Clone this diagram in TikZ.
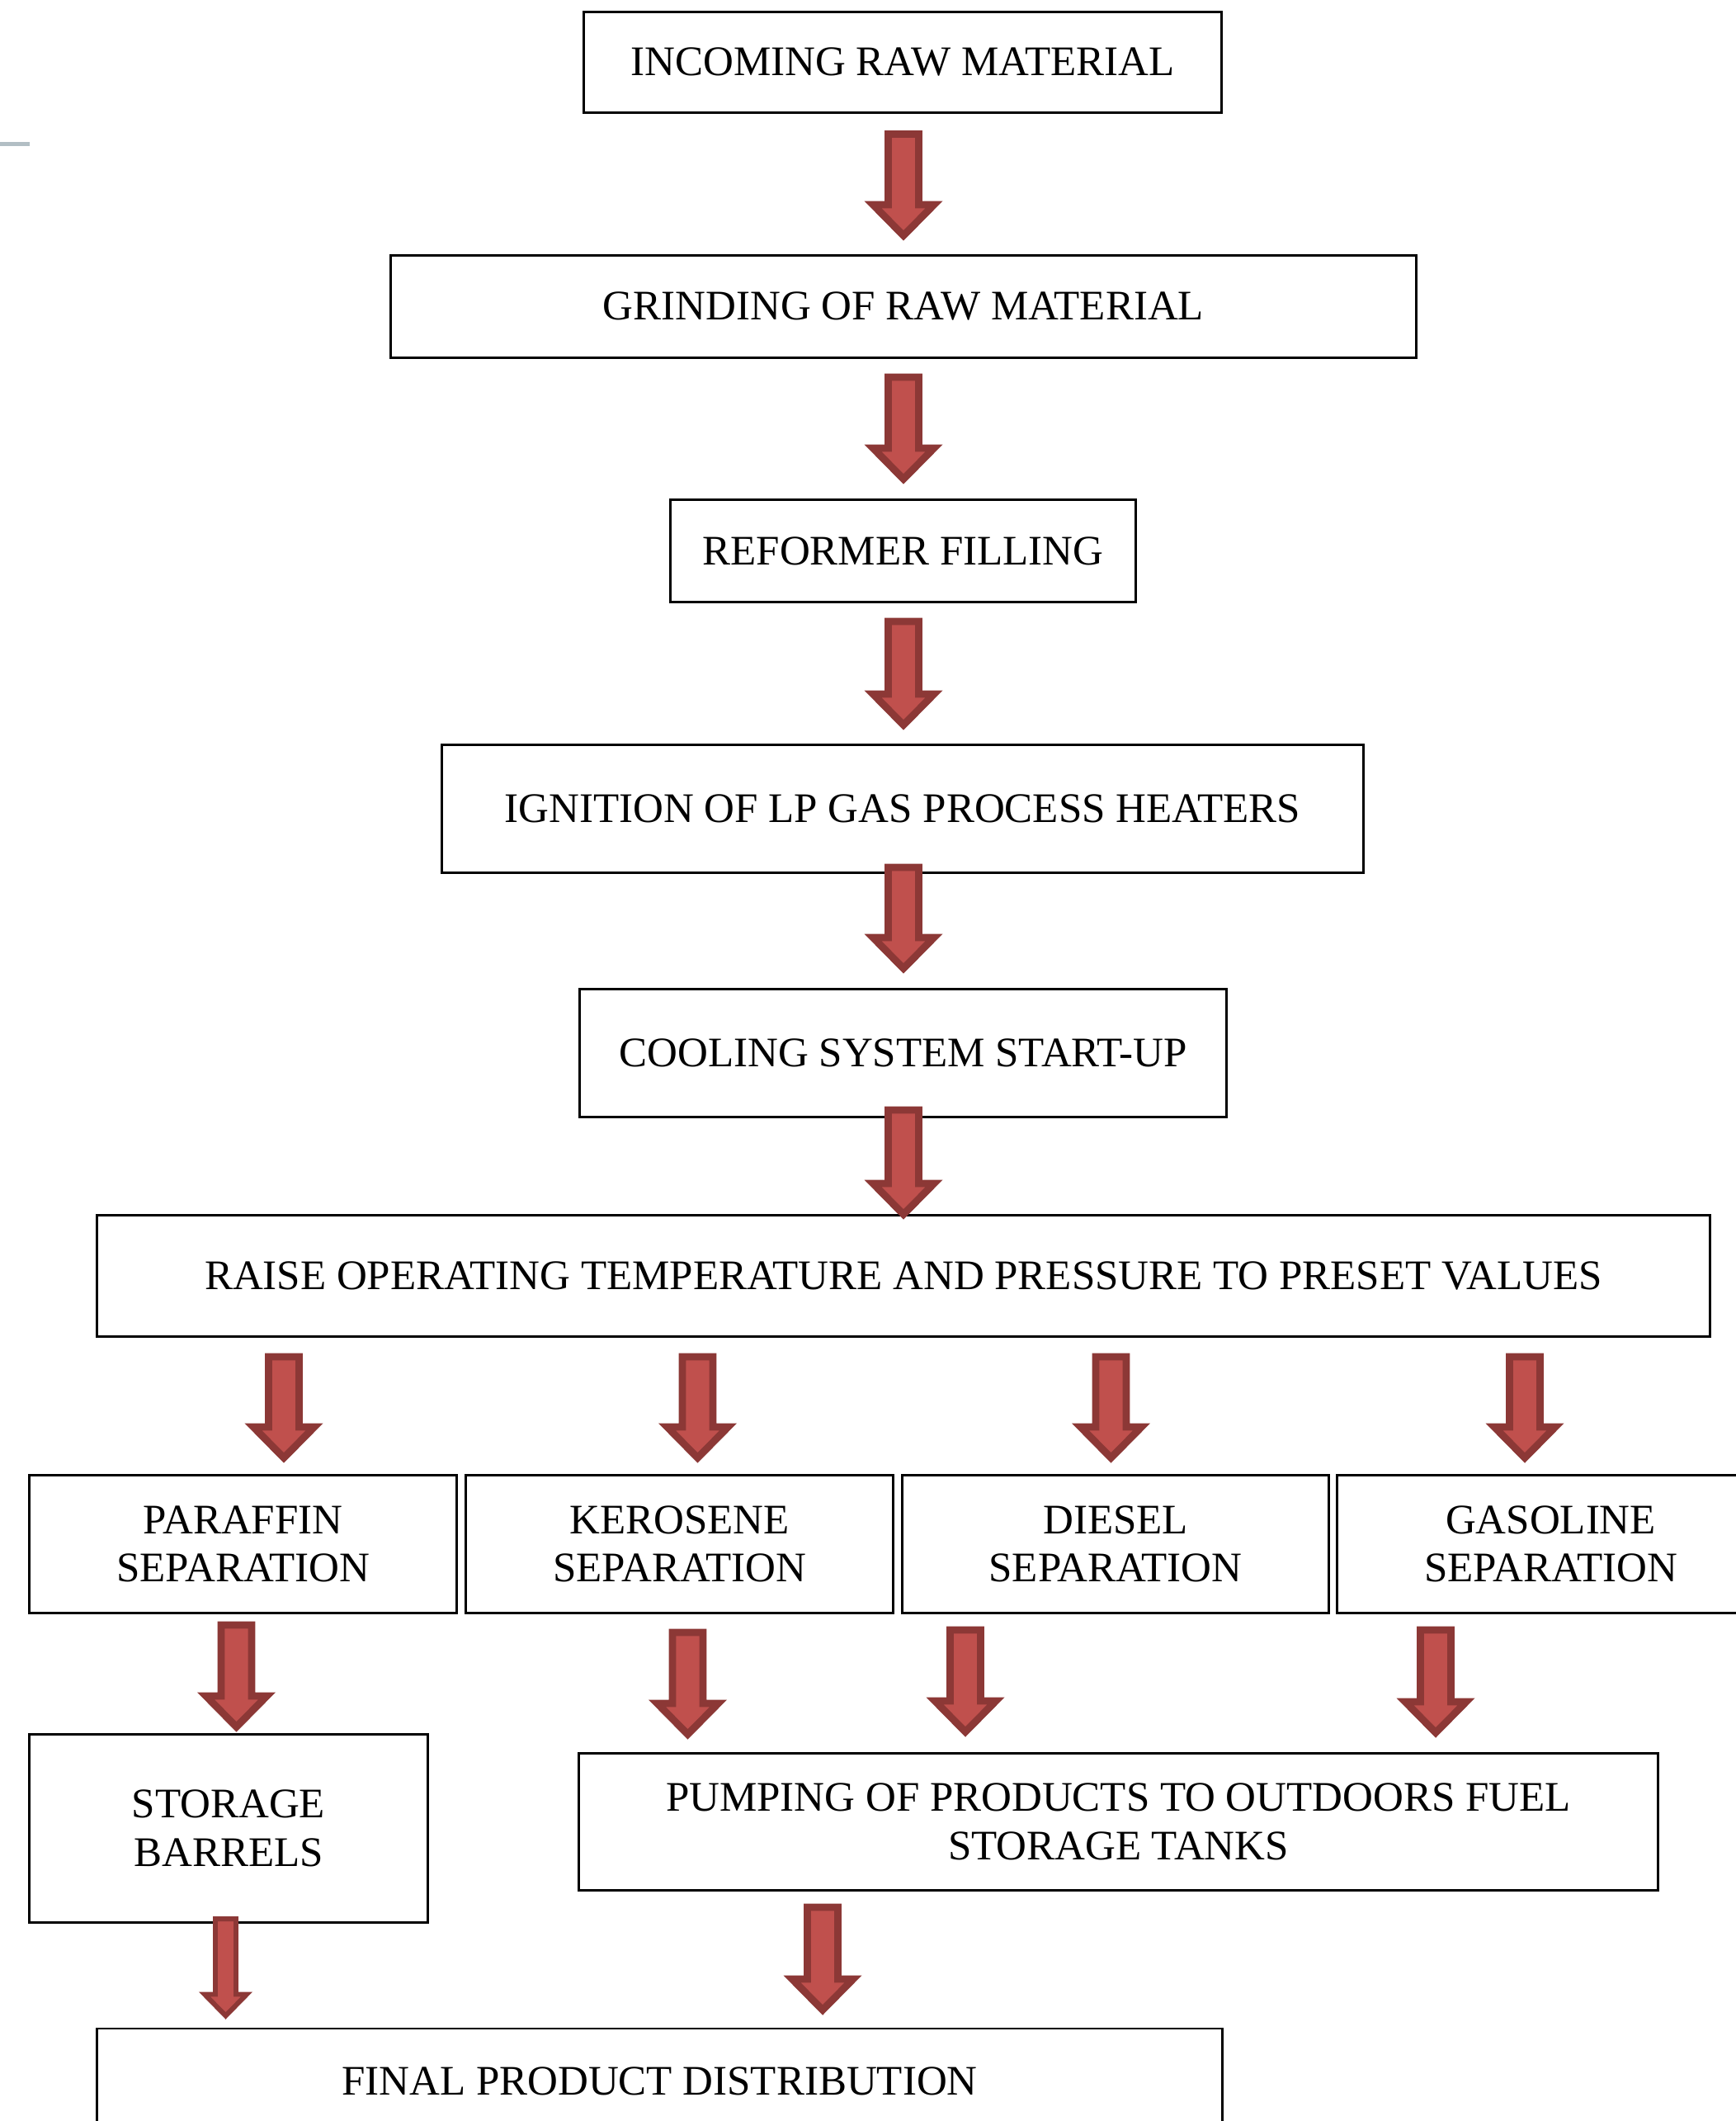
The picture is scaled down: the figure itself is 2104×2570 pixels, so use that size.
\documentclass[tikz,border=0pt]{standalone}
\usepackage{fontspec}
\setmainfont{Liberation Serif}
\usetikzlibrary{calc}
\definecolor{arrowfill}{HTML}{C0504D}
\definecolor{arrowline}{HTML}{8C3836}
\definecolor{edgegray}{RGB}{178,190,196}
\tikzset{
  stage/.style={draw, line width=0.85pt, inner sep=0pt, align=center, font=\fontsize{14.5pt}{16.6pt}\selectfont},
  fatshaft/.store in=\fshaft, fathead/.store in=\fhead, fatlen/.store in=\flen,
  flowarrow/.style={fill=arrowfill, draw=arrowline, line width=2.5pt, line join=miter, fatshaft=18.5, fathead=37, fatlen=37.5},
  thinarrow/.style={line width=1.7pt, fatshaft=12.5, fathead=25.5, fatlen=26}
}
\newcommand{\fatarrow}[6][]{%
  \path[flowarrow,#1] let \p1=([xshift=#4*0.01cm]#2.south), \p2=(#3.north),
      \n1={\y1-(#5+4.5)*0.01cm}, \n2={\y2+(#6+6)*0.01cm}, \n3={\n2+\flen*0.01cm} in
    (\x1-\fshaft*0.01cm,{\n1*1pt}) -- (\x1-\fshaft*0.01cm,{\n3*1pt}) -- (\x1-\fhead*0.01cm,{\n3*1pt})
    -- (\x1,{\n2*1pt}) -- (\x1+\fhead*0.01cm,{\n3*1pt}) -- (\x1+\fshaft*0.01cm,{\n3*1pt})
    -- (\x1+\fshaft*0.01cm,{\n1*1pt}) -- cycle;}
\begin{document}
\begin{tikzpicture}[x=0.01cm,y=-0.01cm]
                \useasboundingbox (0,0) rectangle (2104,2570);
                \clip (0,0) rectangle (2104,2570);
                \draw[edgegray,line width=0.05cm] (0,174.5) -- (36,174.5);
                \foreach \x/\y/\w/\h/\n/\t in {1094/75.5/7.72/1.22/raw/INCOMING RAW MATERIAL, 1095/371.5/12.42/1.23/grind/GRINDING OF RAW MATERIAL, 1094.5/667.5/5.63/1.23/reformer/REFORMER FILLING, 1094/980/11.16/1.54/ignite/IGNITION OF LP GAS PROCESS HEATERS, 1094.5/1276/7.83/1.54/cool/COOLING SYSTEM START-UP, 1095/1546/19.54/1.46/raise/RAISE OPERATING TEMPERATURE AND PRESSURE TO PRESET VALUES, 294.5/1871/5.17/1.66/paraffin/{PARAFFIN\\SEPARATION}, 823.5/1871/5.17/1.66/kerosene/{KEROSENE\\SEPARATION}, 1352/1871/5.16/1.66/diesel/{DIESEL\\SEPARATION}, 1879.5/1871/5.17/1.66/gasoline/{GASOLINE\\SEPARATION}, 277/2215.5/4.82/2.27/storage/{STORAGE\\BARRELS}, 1355.5/2207.5/13.07/1.65/pumping/{PUMPING OF PRODUCTS TO OUTDOORS FUEL\\STORAGE TANKS}, 799.5/2522/13.63/1.28/final/FINAL PRODUCT DISTRIBUTION}
                \node[stage,minimum width=\w cm,minimum height=\h cm] (\n) at (\x,\y) {\t};
                \foreach \s/\t/\dx/\ga/\gb in {raw/grind/1/20/17, grind/reformer/0/18/18, reformer/ignite/0.5/18/17, ignite/cool/1/-12/18, cool/raise/0.5/-14/-6, raise/paraffin/-751/19/14, raise/kerosene/-249.5/19/14, raise/diesel/251.5/19/14, raise/gasoline/753/19/14, paraffin/storage/-8/9/2, kerosene/pumping/10/18/16, diesel/pumping/-182/15/19, gasoline/pumping/-139.5/15/18, pumping/final/-358.5/15/15}
                \fatarrow{\s}{\t}{\dx}{\ga}{\gb};
                \fatarrow[thinarrow]{storage}{final}{-3.5}{-10}{8};

            \end{tikzpicture}
\end{document}
